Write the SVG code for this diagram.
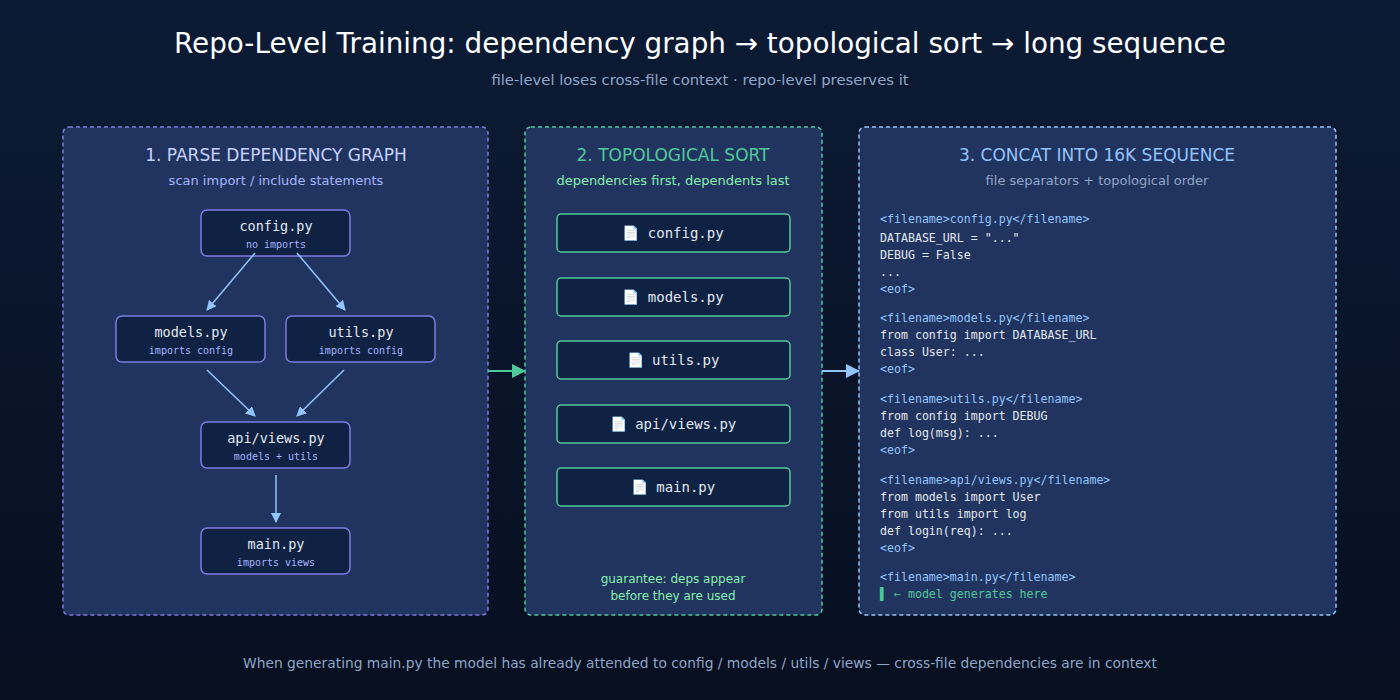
<svg xmlns="http://www.w3.org/2000/svg" width="1400" height="700" viewBox="0 0 1400 700">
<defs>
<linearGradient id="bg" x1="0" y1="0" x2="0" y2="1"><stop offset="0" stop-color="#0c1b35"/><stop offset="1" stop-color="#070f20"/></linearGradient>
<marker id="ab" markerWidth="10" markerHeight="10" refX="9" refY="5" orient="auto" markerUnits="userSpaceOnUse"><path d="M0,0 L10,5 L0,10 z" fill="#93c5fd"/></marker>
<marker id="ag" markerWidth="14" markerHeight="14" refX="13" refY="7" orient="auto" markerUnits="userSpaceOnUse"><path d="M0,0 L14,7 L0,14 z" fill="#4fc99a"/></marker>
<marker id="ab2" markerWidth="14" markerHeight="14" refX="13" refY="7" orient="auto" markerUnits="userSpaceOnUse"><path d="M0,0 L14,7 L0,14 z" fill="#93c5fd"/></marker>
<style>
.s{font-family:"DejaVu Sans",sans-serif}
.m{font-family:"DejaVu Sans Mono",monospace}
.panel{fill:#21345f;stroke-width:1.5;stroke-dasharray:4 3}
.dn{fill:#0f2244;stroke:#7c7ce0;stroke-width:1.5}
.sn{fill:#0f2244;stroke:#4fc99a;stroke-width:1.5}
.nt{font-size:13.5px;fill:#e2e8f0;text-anchor:middle}
.ns{font-size:10px;fill:#a5b4fc;text-anchor:middle}
.st{font-size:14px;fill:#e2e8f0;text-anchor:middle}
.c{font-size:11.6px;fill:#e2e8f0}
.f{font-size:11.6px;fill:#93c5fd}
</style>
</defs>
<rect width="1400" height="700" fill="url(#bg)"/>
<text class="s" x="700" y="53" font-size="27.8" fill="#ffffff" text-anchor="middle">Repo-Level Training: dependency graph → topological sort → long sequence</text>
<text class="s" x="700" y="85" font-size="14.8" fill="#8fa6c8" text-anchor="middle">file-level loses cross-file context · repo-level preserves it</text>

<g id="panel1">
<rect class="panel" x="63" y="127" width="425" height="488" rx="6" stroke="#7c7ce0"/>
<text class="s" x="276" y="161" font-size="17" fill="#c7d2fe" text-anchor="middle">1. PARSE DEPENDENCY GRAPH</text>
<text class="s" x="276" y="185" font-size="13" fill="#a5b4fc" text-anchor="middle">scan import / include statements</text>
</g>
<g id="panel2">
<rect class="panel" x="525" y="127" width="297" height="488" rx="6" stroke="#4fc99a"/>
<text class="s" x="673" y="161" font-size="17" fill="#4fc99a" text-anchor="middle">2. TOPOLOGICAL SORT</text>
<text class="s" x="673" y="185" font-size="13" fill="#86efac" text-anchor="middle">dependencies first, dependents last</text>
<text class="s" x="673" y="583" font-size="12" fill="#86efac" text-anchor="middle">guarantee: deps appear</text>
<text class="s" x="673" y="600" font-size="12" fill="#86efac" text-anchor="middle">before they are used</text>
</g>
<g id="panel3">
<rect class="panel" x="859" y="127" width="477" height="488" rx="6" stroke="#93c5fd"/>
<text class="s" x="1097" y="161" font-size="17" fill="#93c5fd" text-anchor="middle">3. CONCAT INTO 16K SEQUENCE</text>
<text class="s" x="1097" y="185" font-size="13" fill="#8fa6c8" text-anchor="middle">file separators + topological order</text>
</g>

<g id="n-config"><rect class="dn" x="201" y="210" width="149" height="46" rx="6"/><text class="m nt" x="276" y="231">config.py</text><text class="m ns" x="276" y="248">no imports</text></g>
<g id="n-models"><rect class="dn" x="116" y="316" width="149" height="46" rx="6"/><text class="m nt" x="191" y="337">models.py</text><text class="m ns" x="191" y="354">imports config</text></g>
<g id="n-utils"><rect class="dn" x="286" y="316" width="149" height="46" rx="6"/><text class="m nt" x="361" y="337">utils.py</text><text class="m ns" x="361" y="354">imports config</text></g>
<g id="n-views"><rect class="dn" x="201" y="422" width="149" height="46" rx="6"/><text class="m nt" x="276" y="443">api/views.py</text><text class="m ns" x="276" y="460">models + utils</text></g>
<g id="n-main"><rect class="dn" x="201" y="528" width="149" height="46" rx="6"/><text class="m nt" x="276" y="549">main.py</text><text class="m ns" x="276" y="566">imports views</text></g>

<g id="s-config"><rect class="sn" x="557" y="214" width="233" height="38" rx="4"/><text class="m st" x="673" y="238">📄 config.py</text></g>
<g id="s-models"><rect class="sn" x="557" y="278" width="233" height="38" rx="4"/><text class="m st" x="673" y="302">📄 models.py</text></g>
<g id="s-utils"><rect class="sn" x="557" y="341" width="233" height="38" rx="4"/><text class="m st" x="673" y="365">📄 utils.py</text></g>
<g id="s-views"><rect class="sn" x="557" y="405" width="233" height="38" rx="4"/><text class="m st" x="673" y="429">📄 api/views.py</text></g>
<g id="s-main"><rect class="sn" x="557" y="468" width="233" height="38" rx="4"/><text class="m st" x="673" y="492">📄 main.py</text></g>

<g id="sequence" class="m">
<text class="f" x="880" y="223">&lt;filename&gt;config.py&lt;/filename&gt;</text>
<text class="c" x="880" y="242">DATABASE_URL = "..."</text>
<text class="c" x="880" y="259">DEBUG = False</text>
<text class="c" x="880" y="276">...</text>
<text class="f" x="880" y="293">&lt;eof&gt;</text>
<text class="f" x="880" y="322">&lt;filename&gt;models.py&lt;/filename&gt;</text>
<text class="c" x="880" y="339">from config import DATABASE_URL</text>
<text class="c" x="880" y="356">class User: ...</text>
<text class="f" x="880" y="373">&lt;eof&gt;</text>
<text class="f" x="880" y="403">&lt;filename&gt;utils.py&lt;/filename&gt;</text>
<text class="c" x="880" y="420">from config import DEBUG</text>
<text class="c" x="880" y="437">def log(msg): ...</text>
<text class="f" x="880" y="454">&lt;eof&gt;</text>
<text class="f" x="880" y="484">&lt;filename&gt;api/views.py&lt;/filename&gt;</text>
<text class="c" x="880" y="501">from models import User</text>
<text class="c" x="880" y="518">from utils import log</text>
<text class="c" x="880" y="535">def login(req): ...</text>
<text class="f" x="880" y="552">&lt;eof&gt;</text>
<text class="f" x="880" y="581">&lt;filename&gt;main.py&lt;/filename&gt;</text>
<text class="c" x="880" y="598" style="fill:#4fc99a">▌ ← model generates here</text>
</g>

<g id="connectors" stroke-width="1.5" fill="none">
<line x1="255" y1="253" x2="207" y2="310" stroke="#93c5fd" marker-end="url(#ab)"/>
<line x1="297" y1="253" x2="345" y2="310" stroke="#93c5fd" marker-end="url(#ab)"/>
<line x1="207" y1="370" x2="255" y2="416" stroke="#93c5fd" marker-end="url(#ab)"/>
<line x1="344" y1="370" x2="297" y2="416" stroke="#93c5fd" marker-end="url(#ab)"/>
<line x1="276" y1="475" x2="276" y2="522" stroke="#93c5fd" marker-end="url(#ab)"/>
<line x1="488" y1="371" x2="525" y2="371" stroke="#4fc99a" stroke-width="2" marker-end="url(#ag)"/>
<line x1="822" y1="371" x2="859" y2="371" stroke="#93c5fd" stroke-width="2" marker-end="url(#ab2)"/>
</g>

<text class="s" x="700" y="668" font-size="13.8" fill="#8fa6c8" text-anchor="middle">When generating main.py the model has already attended to config / models / utils / views — cross-file dependencies are in context</text>
</svg>
